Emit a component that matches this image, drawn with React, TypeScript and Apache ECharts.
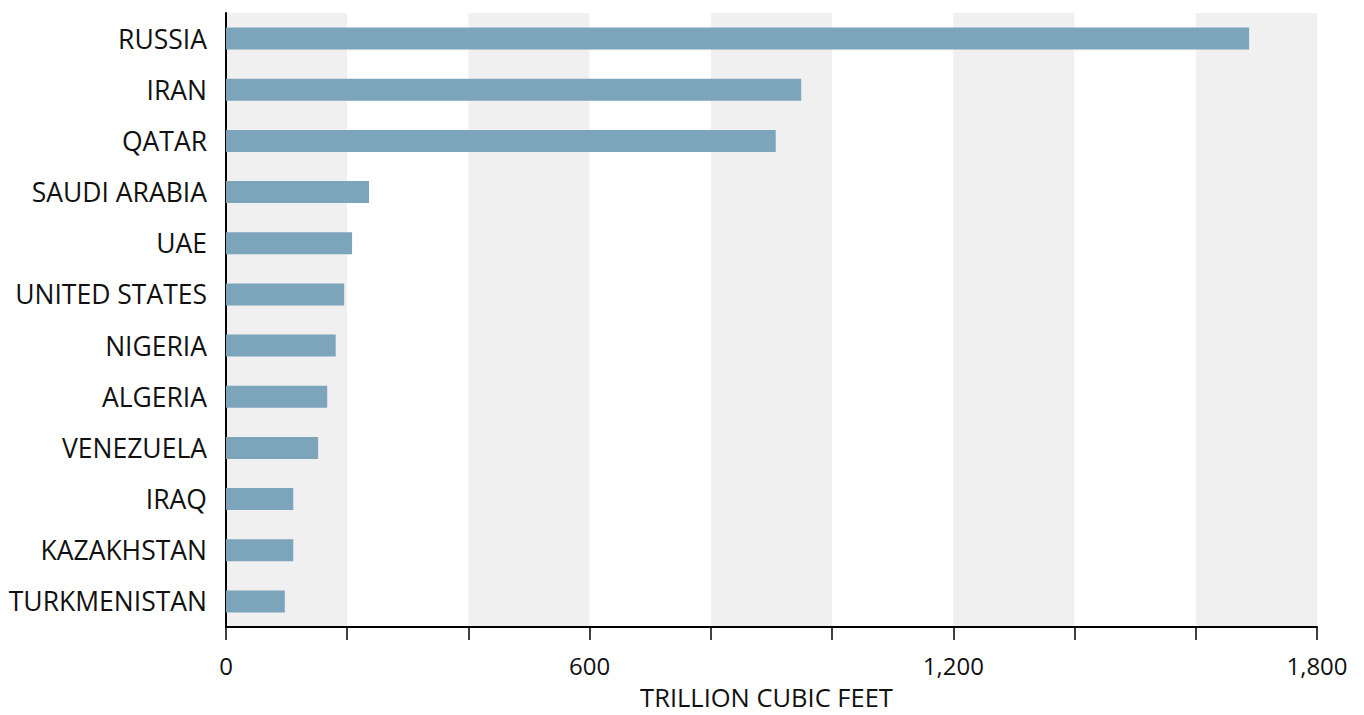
import React, { useEffect, useRef } from "react";
import * as echarts from "echarts";

const countries = [
  "RUSSIA",
  "IRAN",
  "QATAR",
  "SAUDI ARABIA",
  "UAE",
  "UNITED STATES",
  "NIGERIA",
  "ALGERIA",
  "VENEZUELA",
  "IRAQ",
  "KAZAKHSTAN",
  "TURKMENISTAN",
];
const reserves = [1688, 949, 907, 236, 208, 195, 181, 167, 152, 111, 111, 97];
const xLabelValues = [0, 600, 1200, 1800];
const axisName = "TRILLION CUBIC FEET";

export default function App() {
  const ref = useRef<HTMLDivElement>(null);
  useEffect(() => {
    if (!ref.current) return;
    const chart = echarts.init(ref.current, undefined, { renderer: "svg" });
    const font = "'Open Sans', 'Noto Sans', sans-serif";
    chart.setOption({
      animation: false,
      backgroundColor: "#ffffff",
      grid: { left: 226, right: 47, top: 13, bottom: 84, containLabel: false },
      xAxis: {
        type: "value",
        min: 0,
        max: 1800,
        interval: 200,
        name: axisName,
        nameLocation: "middle",
        nameGap: 57,
        nameTextStyle: {
          fontFamily: font,
          fontSize: 25.5,
          color: "#111",
          padding: [0, 10, 0, 0],
        },
        axisLine: { show: true, lineStyle: { color: "#000", width: 2 } },
        axisTick: { show: true, length: 13, lineStyle: { color: "#000", width: 1.5 } },
        axisLabel: {
          margin: 26,
          fontFamily: font,
          fontSize: 24,
          color: "#111",
          formatter: (v: number) =>
            xLabelValues.indexOf(v) >= 0 ? v.toLocaleString("en-US") : "",
        },
        splitLine: { show: false },
        splitArea: { show: true, areaStyle: { color: ["#f0f0f0", "#ffffff"] } },
      },
      yAxis: {
        type: "category",
        data: countries,
        inverse: true,
        axisLine: { show: true, lineStyle: { color: "#000", width: 2 } },
        axisTick: { show: false },
        axisLabel: { margin: 19, fontFamily: font, fontSize: 26.5, color: "#111" },
        splitLine: { show: false },
      },
      series: [
        {
          type: "bar",
          data: reserves,
          barWidth: 22,
          itemStyle: { color: "#7ca5bc" },
        },
      ],
    });
    return () => chart.dispose();
  }, []);
  return (
    <div
      ref={ref}
      style={{ position: "fixed", left: 0, top: 0, width: 1364, height: 715 }}
    />
  );
}
